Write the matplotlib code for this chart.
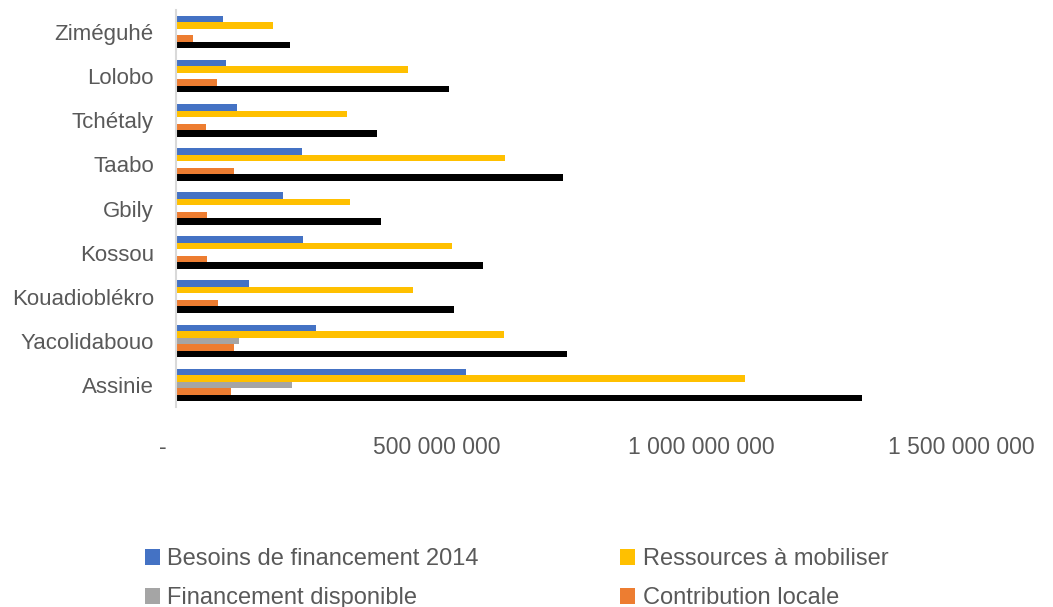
import matplotlib.pyplot as plt
import matplotlib.transforms as mtransforms
import numpy as np

# categories, bottom to top
villages = ['Assinie', 'Yacolidabouo', 'Kouadioblékro', 'Kossou', 'Gbily',
            'Taabo', 'Tchétaly', 'Lolobo', 'Ziméguhé']

# values in FCFA
besoins = [548e6, 264e6, 138e6, 239e6, 201e6, 237e6, 116e6, 94e6, 88e6]
ressources = [1074e6, 619e6, 447e6, 521e6, 329e6, 621e6, 322e6, 438e6, 183e6]
disponible = [219e6, 118e6, 0, 0, 0, 0, 0, 0, 0]
contribution = [104e6, 110e6, 79e6, 58e6, 58e6, 109e6, 56e6, 77e6, 33e6]
total = [1294e6, 738e6, 525e6, 579e6, 387e6, 731e6, 379e6, 515e6, 215e6]

tick_values = [0, 500e6, 1000e6, 1500e6]
tick_labels = ['-', '500 000 000', '1 000 000 000', '1 500 000 000']

txt = '#595959'
plt.rcParams['font.family'] = ['Liberation Sans', 'DejaVu Sans']

fig = plt.figure(figsize=(10.53, 6.07), dpi=100)
ax = fig.add_axes([176 / 1053, 1 - 407 / 607, (971 - 176) / 1053, 397 / 607])

y = np.arange(len(villages))
h = 0.1475
series = [
    (besoins, '#4472C4', 'Besoins de financement 2014', 2),
    (ressources, '#FFC000', 'Ressources à mobiliser', 1),
    (disponible, '#A5A5A5', 'Financement disponible', 0),
    (contribution, '#ED7D31', 'Contribution locale', -1),
    (total, '#000000', '_Total', -2),
]
bars = {}
for vals, col, lab, off in series:
    bars[lab] = ax.barh(y + off * h, vals, height=h, color=col, label=lab)

ax.set_xlim(0, 1500e6)
ax.set_ylim(-0.5, len(villages) - 0.5)
ax.set_yticks(y)
ax.set_yticklabels(villages, fontsize=16)
ax.set_xticks(tick_values)
ax.set_xticklabels(tick_labels, fontsize=16.5)
ax.tick_params(axis='both', length=0, colors=txt)
ax.tick_params(axis='x', pad=21)
ax.tick_params(axis='y', pad=16)

# accounting number format pads the right side, so labels sit a bit left
shifts = [-13.5, -4, -5, -10]
for lbl, dx in zip(ax.get_xticklabels(), shifts):
    lbl.set_transform(lbl.get_transform() + mtransforms.ScaledTranslation(dx / 100, 0, fig.dpi_scale_trans))

for s in ['top', 'right', 'bottom']:
    ax.spines[s].set_visible(False)
ax.spines['left'].set_color('#d9d9d9')
ax.spines['left'].set_linewidth(1.5)

handles = [bars['Besoins de financement 2014'], bars['Financement disponible'],
           bars['Ressources à mobiliser'], bars['Contribution locale']]
fig.legend(handles=handles, labels=[b.get_label() for b in handles],
           loc='upper left', bbox_to_anchor=(145 / 1053, 1 - 548 / 607),
           ncol=2, frameon=False, fontsize=17, labelcolor=txt,
           handlelength=0.64, handleheight=0.64, handletextpad=0.3,
           columnspacing=6.0, labelspacing=0.72, borderpad=0, borderaxespad=0)

fig.savefig('out.png', dpi=100)
